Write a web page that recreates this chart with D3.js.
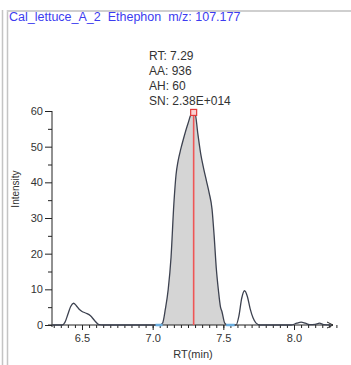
<!DOCTYPE html>
<html><head><meta charset="utf-8">
<script src="https://cdn.jsdelivr.net/npm/d3@7/dist/d3.min.js"></script>
<style>html,body{margin:0;padding:0;background:#fff;}svg{display:block;font-family:"Liberation Sans",Arial,sans-serif;}</style>
</head><body><svg id="c" width="351" height="365"></svg>
<script>
const titleText = "Cal_lettuce_A_2  Ethephon  m/z: 107.177";
const annotLines = ["RT: 7.29", "AA: 936", "AH: 60", "SN: 2.38E+014"];
const times = [6.29,6.36,6.38,6.40,6.42,6.44,6.46,6.48,6.50,6.53,6.56,6.59,6.62,6.65,
  7.05,7.07,7.09,7.11,7.13,7.15,7.165,7.18,7.20,7.22,7.25,7.28,7.30,7.32,7.34,7.36,7.38,7.40,7.42,7.435,7.45,7.465,7.48,7.49,7.51,7.53,
  7.59,7.61,7.63,7.65,7.67,7.69,7.71,7.73,7.76,
  7.98,8.02,8.05,8.08,8.11,8.15,8.18,8.21,8.26];
const intensities = [0,0,0.8,3.0,5.2,6.1,5.4,4.4,3.8,3.3,2.6,1.2,0.1,0,
  0,0.5,4.5,10,19,34,42,46,49.5,52.5,56.5,59.6,59.3,53.5,48,44,40.5,37,32.5,25,16,9.8,5,3.8,0.5,0,
  0,2.5,7.5,9.6,8,4.5,2,0.6,0,
  0,0.5,0.8,0.5,0.1,0.2,0.5,0.1,0];
const peakRT = 7.29, peakHeight = 59.6;
const integStart = 7.04, integEnd = 7.56;
const yMajor = [0,10,20,30,40,50,60];
const yMinor = [5,15,25,35,45,55];
const xMajor = [6.5,7.0,7.5,8.0];
const xMinor = d3.range(6.30,8.30,0.05).map(v=>+v.toFixed(2));

const svg = d3.select("#c");
// frame
svg.append("line").attr("x1",2.5).attr("x2",2.5).attr("y1",10).attr("y2",365).attr("stroke","#c4c4c4").attr("stroke-width",1.5);
svg.append("line").attr("x1",7.5).attr("x2",7.5).attr("y1",10).attr("y2",365).attr("stroke","#c4c4c4").attr("stroke-width",1.5);
svg.append("line").attr("x1",7).attr("x2",351).attr("y1",11).attr("y2",11).attr("stroke","#cfcfcf").attr("stroke-width",2);

svg.append("text").attr("x",9).attr("y",21).attr("font-size",12.5).attr("fill","#3c3cf0").attr("xml:space","preserve").style("white-space","pre").text(titleText);

const x = d3.scaleLinear().domain([6.5,8.0]).range([82,294]);
const y = d3.scaleLinear().domain([0,60]).range([325,111]);

const data = times.map((t,i)=>({t, v: intensities[i]}));

// fill between integration bounds
const fillData = data.filter(d=>d.t>=integStart && d.t<=integEnd);
svg.append("path").datum(fillData)
  .attr("d", d3.area().x(d=>x(d.t)).y0(y(0)).y1(d=>y(d.v)).curve(d3.curveMonotoneX))
  .attr("fill","#d5d5d5");

// axes
const gy = svg.append("g").attr("transform","translate(52,0)");
gy.call(d3.axisLeft(y).tickValues(yMajor).tickSize(7).tickPadding(2).tickFormat(d3.format("d")));
gy.append("g").call(d3.axisLeft(y).tickValues(yMinor).tickSize(4).tickFormat(""));
gy.selectAll(".domain").remove();
gy.append("line").attr("x1",0).attr("x2",0).attr("y1",y(60)).attr("y2",327).attr("stroke","#222");
gy.selectAll("text").attr("font-size",11).attr("fill","#333").attr("font-family","Liberation Sans, Arial");
gy.selectAll(".tick line").attr("stroke","#222");

const gx = svg.append("g").attr("transform","translate(0,325)");
gx.call(d3.axisBottom(x).tickValues(xMajor).tickSize(5).tickPadding(4).tickFormat(d3.format(".1f")));
gx.append("g").call(d3.axisBottom(x).tickValues(xMinor).tickSize(3).tickFormat(""));
gx.selectAll(".domain").remove();
gx.append("line").attr("x1",48).attr("x2",333).attr("y1",0).attr("y2",0).attr("stroke","#222");
gx.append("path").attr("d","M327,-3L333,0L327,3").attr("fill","none").attr("stroke","#222");
gx.selectAll("text").attr("font-size",11).attr("fill","#333").attr("font-family","Liberation Sans, Arial");
gx.selectAll(".tick line").attr("stroke","#222");

svg.append("text").attr("x",193).attr("y",358).attr("text-anchor","middle").attr("font-size",11).attr("fill","#333").text("RT(min)");
svg.append("text").attr("transform","translate(19,189) rotate(-90)").attr("text-anchor","middle").attr("font-size",10).attr("fill","#333").text("Intensity");

// chromatogram line
svg.append("path").datum(data)
  .attr("d", d3.line().x(d=>x(d.t)).y(d=>y(d.v)).curve(d3.curveMonotoneX))
  .attr("fill","none").attr("stroke","#3d4250").attr("stroke-width",1.3);

// baseline markers
[[7.02,7.07],[7.52,7.58]].forEach(b=>{
  svg.append("line").attr("x1",x(b[0])).attr("x2",x(b[1])).attr("y1",y(0)).attr("y2",y(0))
    .attr("stroke","#6aaee0").attr("stroke-width",2.5);
});

// red peak line and marker
svg.append("line").attr("x1",x(peakRT)).attr("x2",x(peakRT)).attr("y1",y(0)).attr("y2",y(peakHeight))
  .attr("stroke","#ef5656").attr("stroke-width",1.6);
svg.append("rect").attr("x",x(peakRT)-3).attr("y",y(peakHeight)-3).attr("width",6).attr("height",6)
  .attr("fill","#fbd0d0").attr("stroke","#e23a3a").attr("stroke-width",1.2);

// annotation
annotLines.forEach((s,i)=>{
  svg.append("text").attr("x",149).attr("y",59.5+i*15.2).attr("font-size",12).attr("fill","#333").text(s);
});
</script></body></html>
